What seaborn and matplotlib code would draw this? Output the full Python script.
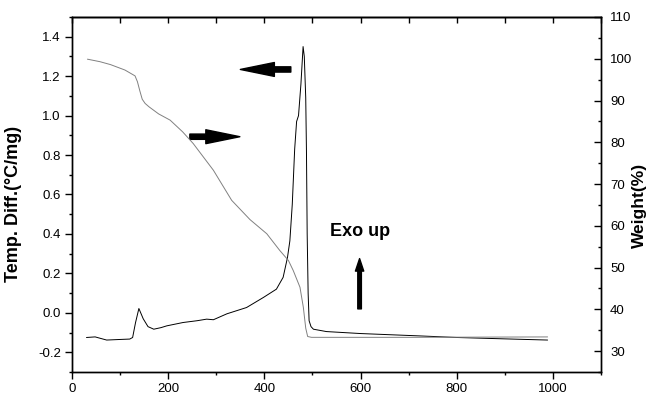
import matplotlib
matplotlib.use("Agg")
import matplotlib.pyplot as plt
import pandas as pd
import seaborn as sns
from matplotlib.ticker import MultipleLocator

# DTA curve (left axis)
dta_temp = [30, 48, 72, 100, 120, 126, 132, 139, 148, 158, 170, 185, 197, 231, 260,
            280, 294, 322, 363, 398, 425, 439, 448, 453, 458, 463, 467, 471, 476,
            480.5, 483, 486, 487.5, 489, 491, 493, 497, 502, 529, 600, 723, 800,
            900, 989]
dta_value = [-0.125, -0.122, -0.138, -0.135, -0.133, -0.125, -0.05, 0.022, -0.03,
             -0.07, -0.083, -0.075, -0.066, -0.049, -0.04, -0.032, -0.035, -0.005,
             0.027, 0.078, 0.12, 0.18, 0.28, 0.365, 0.55, 0.83, 0.97, 1.0, 1.16,
             1.35, 1.30, 1.09, 0.82, 0.4, 0.1, -0.04, -0.07, -0.083, -0.095, -0.105,
             -0.117, -0.125, -0.132, -0.138]

# TG curve (right axis)
tg_temp = [32, 58, 80, 110, 131, 136, 141, 146, 152, 160, 180, 204, 230, 252, 294,
           332, 370, 405, 432, 450, 460, 474, 481, 486, 490, 498, 700, 989]
tg_weight = [99.9, 99.3, 98.6, 97.3, 95.9, 94.5, 92.3, 90.3, 89.3, 88.5, 86.8, 85.3,
             82.5, 79.7, 73.3, 66.1, 61.5, 58.1, 54.1, 51.7, 49.3, 45.3, 40.5, 35.5,
             33.5, 33.3, 33.3, 33.4]

dta = pd.DataFrame({"temp": dta_temp, "value": dta_value})
tg = pd.DataFrame({"temp": tg_temp, "weight": tg_weight})

sns.set_style("ticks")
plt.rcParams["font.family"] = ["Liberation Sans", "DejaVu Sans"]
plt.rcParams["axes.linewidth"] = 1.0
for key in ["text.color", "axes.labelcolor", "xtick.color", "ytick.color",
            "axes.edgecolor"]:
    plt.rcParams[key] = "black"

fig = plt.figure(figsize=(6.49, 3.96), dpi=100)
ax = fig.add_axes([0.111, 0.0606, 0.815, 0.8965])

sns.lineplot(data=dta, x="temp", y="value", ax=ax, color="black", linewidth=0.7)
ax.set_xlim(0, 1100)
ax.set_ylim(-0.3, 1.5)
ax.xaxis.set_major_locator(MultipleLocator(200))
ax.xaxis.set_minor_locator(MultipleLocator(100))
ax.yaxis.set_major_locator(MultipleLocator(0.2))
ax.yaxis.set_minor_locator(MultipleLocator(0.1))
ax.tick_params(which="both", direction="out", labelsize=9.5, width=1)
ax.tick_params(which="major", length=5, pad=3)
ax.tick_params(which="minor", length=2.5)
ax.set_yticks([-0.2, 0.0, 0.2, 0.4, 0.6, 0.8, 1.0, 1.2, 1.4])
ax.set_yticklabels(["-0.2", "0.0", "0.2", "0.4", "0.6", "0.8", "1.0", "1.2", "1.4"])
ax.set_xlabel("")
ax.set_ylabel("Temp. Diff.(°C/mg)", fontsize=13, fontweight="bold")
ax.yaxis.set_label_coords(-0.094, 0.472)

# inward ticks along the top edge
top = ax.secondary_xaxis("top")
top.xaxis.set_major_locator(MultipleLocator(100))
top.tick_params(direction="in", length=4.5, width=1, labeltop=False)

ax2 = ax.twinx()
sns.lineplot(data=tg, x="temp", y="weight", ax=ax2, color="#808080", linewidth=0.7)
ax2.set_ylim(25, 110)
ax2.yaxis.set_major_locator(MultipleLocator(10))
ax2.yaxis.set_minor_locator(MultipleLocator(5))
ax2.tick_params(axis="y", which="both", direction="in", labelsize=9.5, width=1,
                pad=6.5)
ax2.tick_params(axis="y", which="major", length=5)
ax2.tick_params(axis="y", which="minor", length=2.5)
ax2.set_yticks([30, 40, 50, 60, 70, 80, 90, 100, 110])
ax2.set_ylabel("Weight(%)", fontsize=12.5, fontweight="bold")
ax2.yaxis.set_label_coords(1.059, 0.47)

# arrows pointing to the matching axes
big = "simple,head_length=2.45,head_width=1.0,tail_width=0.38"
ax.annotate("", xy=(350, 1.234), xytext=(455, 1.234),
            arrowprops=dict(arrowstyle=big, color="black", shrinkA=0, shrinkB=0,
                            mutation_scale=10))
ax.annotate("", xy=(349, 0.893), xytext=(245, 0.893),
            arrowprops=dict(arrowstyle=big, color="black", shrinkA=0, shrinkB=0,
                            mutation_scale=10))
ax.annotate("", xy=(598, 0.275), xytext=(598, 0.02),
            arrowprops=dict(arrowstyle="simple,head_length=0.9,head_width=0.6,tail_width=0.26",
                            color="black", shrinkA=0, shrinkB=0, mutation_scale=10))
ax.text(536, 0.39, "Exo up", fontsize=13, fontweight="bold", va="baseline")

fig.savefig("out.png", dpi=100)
